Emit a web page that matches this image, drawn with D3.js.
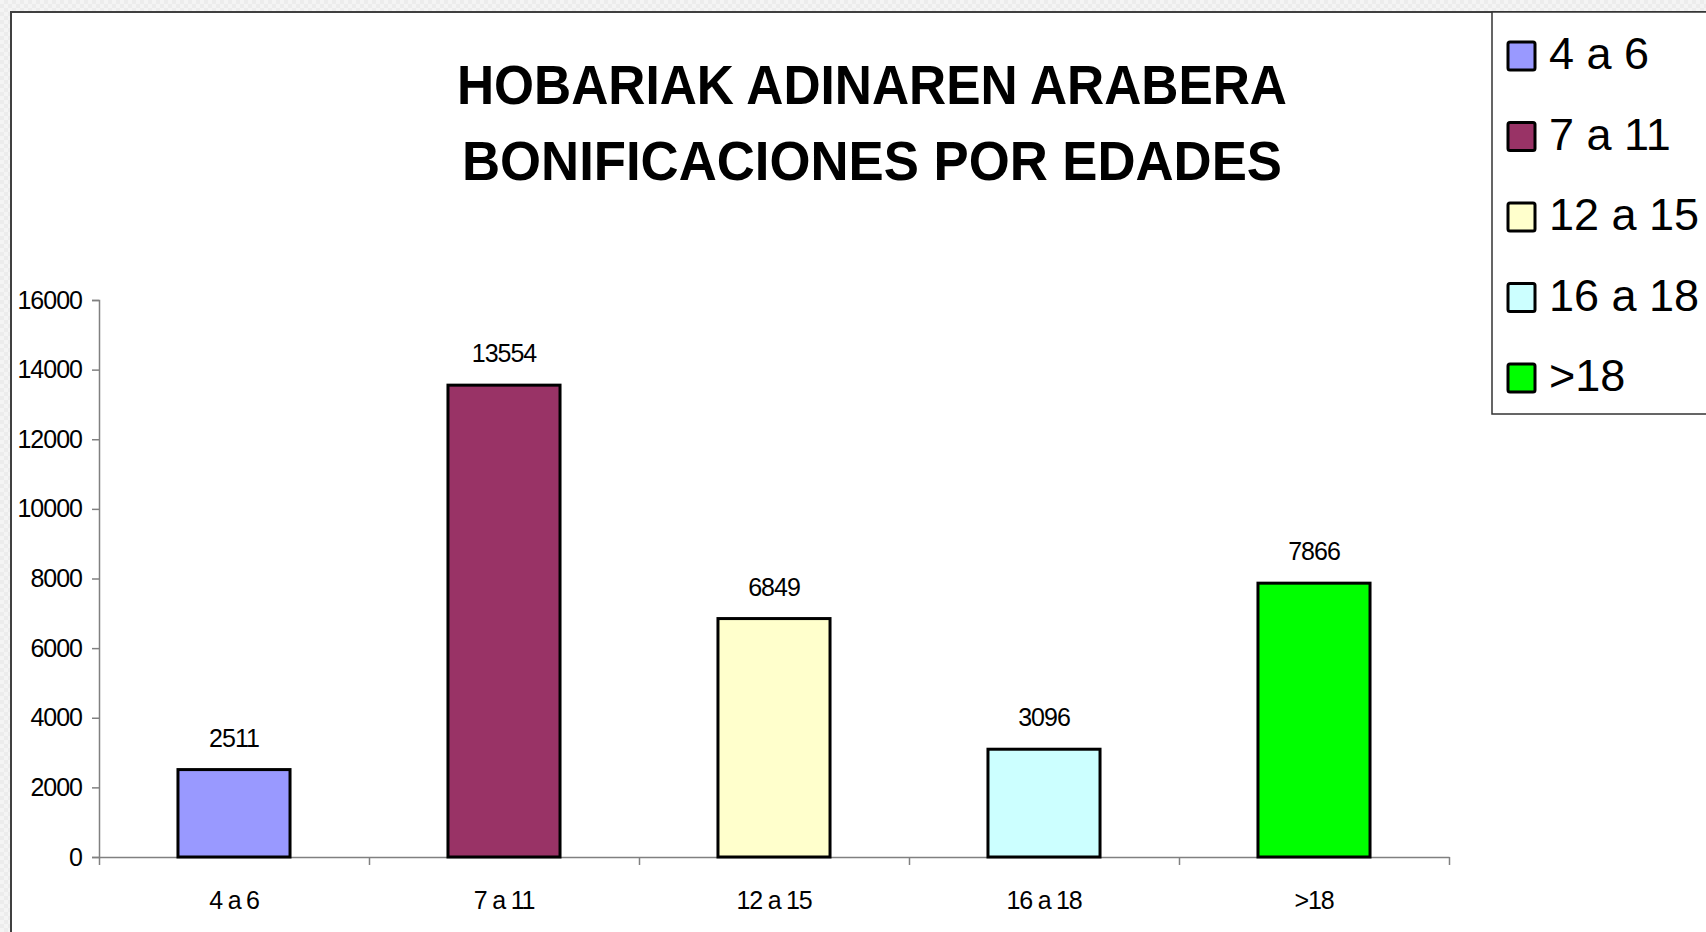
<!DOCTYPE html>
<html>
<head>
<meta charset="utf-8">
<script src="https://cdn.jsdelivr.net/npm/d3@7"></script>
<style>
  html, body { margin: 0; padding: 0; background: #efefef; }
  svg { display: block; font-family: "Liberation Sans", Arial, sans-serif; }
</style>
</head>
<body>
<div id="container"></div>
<script>
// data
var categories = ["4 a 6", "7 a 11", "12 a 15", "16 a 18", ">18"];
var values = [2511, 13554, 6849, 3096, 7866];
var colors = ["#9999ff", "#993366", "#ffffcc", "#ccffff", "#00ff00"];
var yTicks = [0, 2000, 4000, 6000, 8000, 10000, 12000, 14000, 16000];
var titleLines = ["HOBARIAK ADINAREN ARABERA", "BONIFICACIONES POR EDADES"];

var W = 1706, H = 932;
var plot = { left: 99, right: 1449, top: 300, bottom: 857 };

var svg = d3.select("#container").append("svg")
  .attr("width", W).attr("height", H);

// checkered sheet background
var defs = svg.append("defs");
var pat = defs.append("pattern").attr("id", "sheet")
  .attr("width", 8).attr("height", 8).attr("patternUnits", "userSpaceOnUse");
pat.append("rect").attr("width", 8).attr("height", 8).attr("fill", "#ececec");
pat.append("rect").attr("width", 4).attr("height", 4).attr("fill", "#f4f4f4");
pat.append("rect").attr("x", 4).attr("y", 4).attr("width", 4).attr("height", 4).attr("fill", "#f4f4f4");
svg.append("rect").attr("width", W).attr("height", H).attr("fill", "url(#sheet)");

// chart area
svg.append("rect")
  .attr("x", 11).attr("y", 12).attr("width", W + 20).attr("height", H + 20)
  .attr("fill", "#fff").attr("stroke", "#404040").attr("stroke-width", 2);

// title
svg.append("g").selectAll("text").data(titleLines).enter().append("text")
  .attr("x", 872).attr("y", function (d, i) { return 104 + i * 76; })
  .attr("text-anchor", "middle")
  .attr("font-weight", "bold").attr("font-size", 56)
  .attr("textLength", function (d, i) { return i === 0 ? 830 : 820; })
  .attr("lengthAdjust", "spacingAndGlyphs")
  .attr("fill", "#000")
  .text(function (d) { return d; });

// scales
var x = d3.scaleBand().domain(categories)
  .range([plot.left, plot.right])
  .paddingInner(0.585).paddingOuter(0.2925);
var xEdge = d3.scaleLinear().domain([0, categories.length]).range([plot.left, plot.right]);
var y = d3.scaleLinear().domain([0, 16000]).range([plot.bottom, plot.top]);

// y axis
var gy = svg.append("g").attr("transform", "translate(" + plot.left + ",0)")
  .call(d3.axisLeft(y).tickValues(yTicks).tickSize(7).tickPadding(10).tickFormat(d3.format("d")));
gy.select(".domain").attr("stroke", "#808080").attr("stroke-width", 1.5);
gy.selectAll(".tick line").attr("stroke", "#808080").attr("stroke-width", 1.5);
gy.selectAll(".tick text").attr("font-size", 25).attr("font-family", "Liberation Sans, Arial, sans-serif")
  .attr("fill", "#000").attr("letter-spacing", -1);

// x axis: edge ticks + labels
var gxe = svg.append("g").attr("transform", "translate(0," + plot.bottom + ")")
  .call(d3.axisBottom(xEdge).tickValues(d3.range(categories.length + 1)).tickSize(8).tickSizeOuter(0).tickFormat(""));
gxe.select(".domain").attr("stroke", "#808080").attr("stroke-width", 1.5);
gxe.selectAll(".tick line").attr("stroke", "#808080").attr("stroke-width", 1.5);

var gx = svg.append("g").attr("transform", "translate(0," + plot.bottom + ")")
  .call(d3.axisBottom(x).tickSize(0).tickPadding(52));
gx.select(".domain").remove();
gx.selectAll(".tick text").attr("font-size", 25).attr("font-family", "Liberation Sans, Arial, sans-serif")
  .attr("fill", "#000").attr("letter-spacing", -1.2).attr("dy", 0);

// bars
var bars = svg.append("g").selectAll(".bar")
  .data(values).enter().append("g").attr("class", "bar");

bars.append("rect")
  .attr("x", function (d, i) { return x(categories[i]); })
  .attr("y", function (d) { return y(d); })
  .attr("width", x.bandwidth())
  .attr("height", function (d) { return y(0) - y(d); })
  .attr("fill", function (d, i) { return colors[i]; })
  .attr("stroke", "#000").attr("stroke-width", 3);

bars.append("text")
  .attr("x", function (d, i) { return x(categories[i]) + x.bandwidth() / 2; })
  .attr("y", function (d) { return y(d) - 23; })
  .attr("text-anchor", "middle")
  .attr("font-size", 25).attr("letter-spacing", -1)
  .text(function (d) { return d; });

// legend
var legend = svg.append("g");
legend.append("rect")
  .attr("x", 1492).attr("y", 12).attr("width", 300).attr("height", 402)
  .attr("fill", "#fff").attr("stroke", "#333").attr("stroke-width", 1.5);

var item = legend.selectAll(".item").data(categories).enter().append("g")
  .attr("class", "item")
  .attr("transform", function (d, i) { return "translate(1508," + (42 + i * 80.5) + ")"; });
item.append("rect")
  .attr("width", 27).attr("height", 28).attr("rx", 2)
  .attr("fill", function (d, i) { return colors[i]; })
  .attr("stroke", "#000").attr("stroke-width", 3);
item.append("text")
  .attr("x", 41).attr("y", 27)
  .attr("font-size", 45)
  .text(function (d) { return d; });
</script>
</body>
</html>
